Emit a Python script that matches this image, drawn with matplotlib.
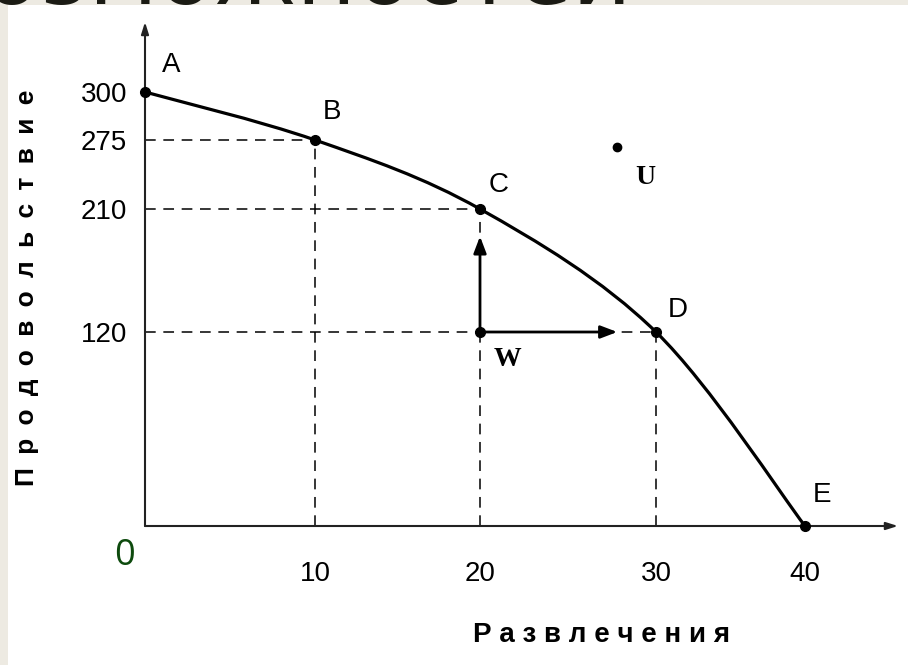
import numpy as np
import matplotlib
matplotlib.use('Agg')
import matplotlib.pyplot as plt
from matplotlib import patches
from matplotlib.path import Path

# production possibilities frontier (schematic, uneven axis spacing)
point_names = ['A', 'B', 'C', 'D', 'E']
entertainment = [0, 10, 20, 30, 40]
food = [300, 275, 210, 120, 0]

x_ticks = [10, 20, 30, 40]
y_ticks = [120, 210, 275, 300]

w_point = (20, 120)
w_arrow_up = 190
w_arrow_right = 27.8
u_point = (27.8, 268)

# where each tick value sits on the original drawing (pixels from the origin)
x_knot_vals = [0, 10, 20, 30, 40]
x_knot_pos = [0, 170, 335, 511, 660]
y_knot_vals = [0, 120, 210, 275, 300]
y_knot_pos = [0, 194, 317, 386, 434]


def piecewise(xs, ys):
    xs, ys = np.asarray(xs, float), np.asarray(ys, float)

    def f(v):
        v = np.asarray(v, float)
        out = np.interp(v, xs, ys)
        lo_slope = (ys[1] - ys[0]) / (xs[1] - xs[0])
        hi_slope = (ys[-1] - ys[-2]) / (xs[-1] - xs[-2])
        out = np.where(v < xs[0], ys[0] + (v - xs[0]) * lo_slope, out)
        out = np.where(v > xs[-1], ys[-1] + (v - xs[-1]) * hi_slope, out)
        return out
    return f


fx, ifx = piecewise(x_knot_vals, x_knot_pos), piecewise(x_knot_pos, x_knot_vals)
fy, ify = piecewise(y_knot_vals, y_knot_pos), piecewise(y_knot_pos, y_knot_vals)

SANS = ['Liberation Sans', 'DejaVu Sans']
W, H = 908, 665
fig = plt.figure(figsize=(W / 100, H / 100), dpi=100)
fig.patch.set_facecolor('#edeae2')

fig.text(632 / W, (H - 4) / H, 'возможностей', ha='right', va='baseline',
         fontsize=66, color='#1b1b14', family='DejaVu Sans', zorder=-2)
fig.add_artist(patches.Rectangle((8 / W, 0), (W - 8) / W, (H - 5) / H,
                                 transform=fig.transFigure, facecolor='white',
                                 edgecolor='none', zorder=-1))

ax = fig.add_axes([145 / W, (H - 526) / H, 753 / W, 504 / H])
ax.set_facecolor('none')
ax.set_xscale('function', functions=(fx, ifx))
ax.set_yscale('function', functions=(fy, ify))
ax.set_xlim(0, float(ifx(753)))
ax.set_ylim(0, float(ify(504)))
for s in ax.spines.values():
    s.set_visible(False)

# axes with arrow heads
for end in [(0, 1), (1, 0)]:
    ax.annotate('', xy=end, xytext=(0, 0), xycoords='axes fraction',
                arrowprops=dict(arrowstyle='-|>,head_length=0.7,head_width=0.22',
                                lw=1.5, color='#222222', shrinkA=0, shrinkB=0))

ax.set_xticks(x_ticks)
ax.set_xticklabels([str(v) for v in x_ticks])
ax.set_yticks(y_ticks)
ax.set_yticklabels([str(v) for v in y_ticks])
ax.tick_params(length=0, labelsize=20)
ax.tick_params(axis='x', pad=25)
ax.tick_params(axis='y', pad=13)
for lab in ax.get_xticklabels() + ax.get_yticklabels():
    lab.set_family(SANS)

# dashed guides to B, C, D
dash = (0, (7, 5))
for x, y in zip(entertainment[1:4], food[1:4]):
    ax.plot([0, x], [y, y], color='k', lw=1.1, ls=dash, zorder=2)
    ax.plot([x, x], [0, y], color='k', lw=1.1, ls=dash, zorder=2)

# smooth frontier through A..E (Catmull-Rom in drawing space)
P = np.column_stack([fx(entertainment), fy(food)])
ext = np.vstack([P[0], P, P[-1]])
verts = [P[0]]
codes = [Path.MOVETO]
for i in range(len(P) - 1):
    p0, p1, p2, p3 = ext[i], ext[i + 1], ext[i + 2], ext[i + 3]
    verts += [p1 + (p2 - p0) / 6, p2 - (p3 - p1) / 6, p2]
    codes += [Path.CURVE4] * 3
verts = np.array(verts)
verts = np.column_stack([ifx(verts[:, 0]), ify(verts[:, 1])])
ax.add_patch(patches.PathPatch(Path(verts, codes), fill=False, lw=2.3,
                               edgecolor='k', zorder=3, capstyle='round'))

ax.plot(entertainment, food, 'o', color='k', ms=7, zorder=5, clip_on=False)
ax.plot(*w_point, 'o', color='k', ms=7, zorder=5)
ax.plot(*u_point, 'o', color='k', ms=6, zorder=5)

# arrows from W
for target in [(w_point[0], w_arrow_up), (w_arrow_right, w_point[1])]:
    ax.annotate('', xy=target, xytext=w_point,
                arrowprops=dict(arrowstyle='-|>,head_length=1.0,head_width=0.38',
                                lw=2.0, color='k', shrinkA=0, shrinkB=0), zorder=4)

offsets = {'A': (18.5, 19.5), 'B': (12, 20), 'C': (13.5, 17.5),
           'D': (16, 16), 'E': (12, 22)}
for name, x, y in zip(point_names, entertainment, food):
    ax.annotate(name, (x, y), xytext=offsets[name], textcoords='offset points',
                ha='center', va='center', fontsize=20, family=SANS,
                annotation_clip=False)
ax.annotate('U', u_point, xytext=(20, -22), textcoords='offset points',
            ha='center', va='center', fontsize=20, family='Liberation Serif',
            fontweight='bold')
ax.annotate('W', w_point, xytext=(20, -20), textcoords='offset points',
            ha='center', va='center', fontsize=20, family='Liberation Serif',
            fontweight='bold')

fig.text(125 / W, (H - 556) / H, '0', ha='center', va='center', fontsize=26,
         color='#0d4a0d', family='Open Sans')

fig.text(27 / W, (H - 288) / H, '\u2002'.join('Продовольствие'), rotation=90,
         ha='center', va='center', fontsize=19, fontweight='bold', family=SANS)
fig.text(602 / W, (H - 635) / H, ' '.join('Развлечения'),
         ha='center', va='center', fontsize=20, fontweight='bold', family=SANS)

fig.savefig('out.png', dpi=100, facecolor=fig.get_facecolor())
